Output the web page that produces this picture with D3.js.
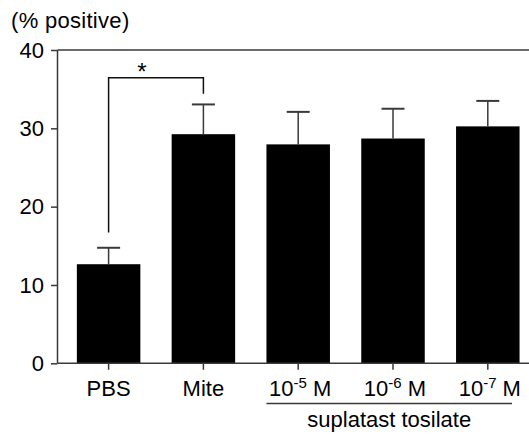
<!DOCTYPE html>
<html>
<head>
    <script src="https://d3js.org/d3.v7.min.js" charset="utf-8"></script>
    <style>
        body { margin: 0; background: #fff; }
        text { font-family: "Liberation Sans", Arial, Helvetica, sans-serif; fill: #000; }
    </style>
</head>
<body>
    <script>
        // data
        var groups = ["PBS", "Mite", "10-5", "10-6", "10-7"]
        var labelBase = ["PBS", "Mite", "10", "10", "10"]
        var labelSup = ["", "", "-5", "-6", "-7"]
        var labelTail = ["", "", " M", " M", " M"]
        var means = [12.65, 29.25, 27.95, 28.7, 30.25]
        var sems = [2.1, 3.8, 4.15, 3.8, 3.25]
        var yTicks = [0, 10, 20, 30, 40]
        // significance bracket: [from, to, top, leftEnd, rightEnd]
        var bracket = ["PBS", "Mite", 36.45, 16.7, 34.4]
        var groupTitle = "suplatast tosilate"

        var W = 529, H = 434
        var svg = d3.select("body")
            .append("svg")
            .attr("width", W)
            .attr("height", H)

        var axisX = 57.5
        var y = d3.scaleLinear().domain([0, 40]).range([363.3, 50])
        var x = d3.scalePoint().domain(groups).range([108.6, 487.8])
        var barW = 63.5
        var capW = 23
        var grey = "#3a3a3a"

        // bars
        svg.selectAll("rect.bar")
            .data(groups)
            .enter()
            .append("rect")
            .attr("class", "bar")
            .attr("x", function (d) { return x(d) - barW / 2 })
            .attr("width", barW)
            .attr("y", function (d, i) { return y(means[i]) })
            .attr("height", function (d, i) { return y(0) - y(means[i]) })
            .style("fill", "#000")

        // error bars (upper only)
        var eb = svg.selectAll("g.err").data(groups).enter().append("g")
        eb.append("line")
            .attr("x1", function (d) { return x(d) }).attr("x2", function (d) { return x(d) })
            .attr("y1", function (d, i) { return y(means[i]) })
            .attr("y2", function (d, i) { return y(means[i] + sems[i]) })
            .style("stroke", grey).style("stroke-width", 1.5)
        eb.append("line")
            .attr("x1", function (d) { return x(d) - capW / 2 })
            .attr("x2", function (d) { return x(d) + capW / 2 })
            .attr("y1", function (d, i) { return y(means[i] + sems[i]) })
            .attr("y2", function (d, i) { return y(means[i] + sems[i]) })
            .style("stroke", grey).style("stroke-width", 2)

        // y axis
        var yAxis = d3.axisLeft(y).tickValues(yTicks).tickSize(6.5).tickPadding(7)
        var gy = svg.append("g").attr("transform", "translate(" + axisX + ",0)").call(yAxis)
        gy.select(".domain").remove()
        gy.append("line").attr("y1", y(0)).attr("y2", y(40))
        gy.selectAll("line").style("stroke", grey).style("stroke-width", 1.5)
        gy.selectAll("text")
            .style("font-size", "22px")
            .style("font-family", "'Liberation Sans', Arial, sans-serif")
            .style("fill", "#000")

        // top frame line and x axis line
        svg.append("line")
            .attr("x1", axisX).attr("x2", W)
            .attr("y1", y(40)).attr("y2", y(40))
            .style("stroke", grey).style("stroke-width", 1.5)
        svg.append("line")
            .attr("x1", axisX).attr("x2", W)
            .attr("y1", y(0)).attr("y2", y(0))
            .style("stroke", grey).style("stroke-width", 1.5)

        // x ticks
        svg.selectAll("line.xt")
            .data(groups)
            .enter()
            .append("line")
            .attr("class", "xt")
            .attr("x1", function (d) { return x(d) }).attr("x2", function (d) { return x(d) })
            .attr("y1", y(0)).attr("y2", y(0) + 6.5)
            .style("stroke", grey).style("stroke-width", 1.5)

        // x labels
        var xl = svg.selectAll("text.xl")
            .data(groups)
            .enter()
            .append("text")
            .attr("class", "xl")
            .attr("x", function (d) { return x(d) + (labelSup[groups.indexOf(d)] ? 2 : 0) })
            .attr("y", 395.5)
            .attr("text-anchor", "middle")
            .style("font-size", "22px")
        xl.append("tspan").text(function (d, i) { return labelBase[i] })
        xl.append("tspan")
            .attr("dy", function (d, i) { return labelSup[i] ? -8 : 0 })
            .style("font-size", "15px")
            .text(function (d, i) { return labelSup[i] })
        xl.append("tspan")
            .attr("dy", function (d, i) { return labelSup[i] ? 8 : 0 })
            .text(function (d, i) { return labelTail[i] })

        // group underline and title
        svg.append("line")
            .attr("x1", x("10-5") - barW / 2).attr("x2", 512)
            .attr("y1", 403.5).attr("y2", 403.5)
            .style("stroke", grey).style("stroke-width", 1.5)
        svg.append("text")
            .attr("x", (x("10-5") - barW / 2 + 512) / 2)
            .attr("y", 427)
            .attr("text-anchor", "middle")
            .style("font-size", "22px")
            .text(groupTitle)

        // significance bracket
        var bx1 = x(bracket[0]), bx2 = x(bracket[1])
        svg.append("path")
            .attr("d", "M" + bx1 + "," + y(bracket[3]) + "V" + y(bracket[2]) +
                "H" + bx2 + "V" + y(bracket[4]))
            .style("fill", "none").style("stroke", "#111").style("stroke-width", 1.5)
        svg.append("text")
            .attr("x", (bx1 + bx2) / 2 - 14)
            .attr("y", 80)
            .attr("text-anchor", "middle")
            .style("font-size", "24px")
            .text("*")

        // y unit label
        svg.append("text")
            .attr("x", 11)
            .attr("y", 28)
            .style("font-size", "22px")
            .style("letter-spacing", "0.3px")
            .text("(% positive)")
    </script>
</body>
</html>
